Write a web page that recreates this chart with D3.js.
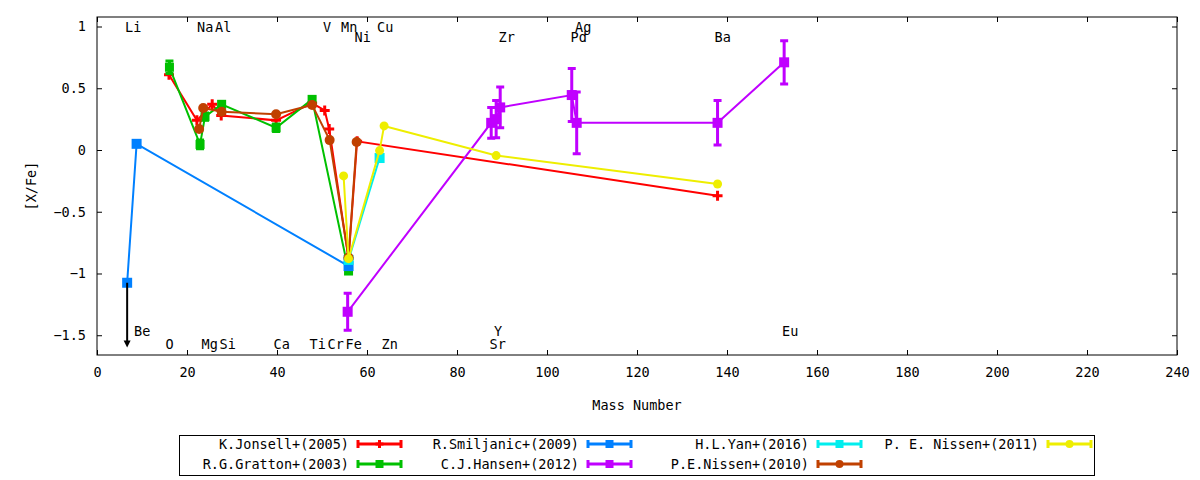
<!DOCTYPE html>
<html><head><meta charset="utf-8">
<script src="https://cdn.jsdelivr.net/npm/d3@7/dist/d3.min.js"></script>
<style>
body{margin:0;background:#fff}
text{font-family:"DejaVu Sans Mono",monospace;font-size:13.5px;fill:#000}
</style>
</head><body>
<svg id="chart" width="1200" height="480"></svg>
<script>
// ---- axis ticks ----
const xTicks = [0,20,40,60,80,100,120,140,160,180,200,220,240];
const yTicks = [1,0.5,0,-0.5,-1,-1.5];
const xTitle = "Mass Number";
const yTitle = "[X/Fe]";

// ---- element labels (name, mass) by row ----
const elemTopRow1 = [["Li",7],["Na",23],["Al",27],["V",51],["Mn",55],["Cu",63],["Ag",107]];
const elemTopRow2 = [["Ni",58],["Zr",90],["Pd",106],["Ba",138]];
const elemBotRow1 = [["O",16],["Mg",24],["Si",28],["Ca",40],["Ti",48],["Cr",52],["Fe",56],["Zn",64],["Sr",88]];
const elemBotRow2 = [["Be",9],["Y",89],["Eu",153]];

// ---- series data ----
const jonsellMass = [16.0, 22.2, 25.6, 27.6, 39.8, 47.8, 50.6, 51.6, 55.9, 57.8, 137.9];
const jonsellVal  = [0.61, 0.24, 0.37, 0.28, 0.24, 0.38, 0.32, 0.17, -0.88, 0.07, -0.37];
const jonsellErr  = [0, 0, 0, 0, 0, 0, 0, 0, 0, 0, 0];

const grattonMass = [16.1, 22.9, 24.0, 27.7, 39.8, 47.8, 55.9];
const grattonVal  = [0.67, 0.045, 0.27, 0.37, 0.18, 0.41, -0.98];
const grattonErr  = [0.05, 0.035, 0.03, 0.02, 0.03, 0.02, 0];

const smiljanicMass = [6.7, 8.8, 55.9];
const smiljanicVal  = [-1.075, 0.05, -0.94];
const smiljanicErr  = [0, 0, 0];

const hansenMass = [55.7, 87.6, 88.7, 89.6, 105.5, 106.6, 137.9, 152.7];
const hansenVal  = [-1.31, 0.22, 0.25, 0.345, 0.445, 0.22, 0.22, 0.71];
const hansenErr  = [0.15, 0.125, 0.15, 0.165, 0.215, 0.25, 0.18, 0.175];

const yanMass = [55.9, 62.8];
const yanVal  = [-0.89, -0.065];
const yanErr  = [0, 0];

const nissen10Mass = [22.7, 23.6, 27.7, 39.8, 47.8, 51.7, 55.9, 57.7];
const nissen10Val  = [0.17, 0.34, 0.31, 0.29, 0.365, 0.08, -0.87, 0.065];
const nissen10Err  = [0, 0, 0, 0, 0, 0, 0, 0];

const nissen11Mass = [54.8, 55.9, 62.8, 63.8, 88.7, 137.9];
const nissen11Val  = [-0.21, -0.88, -0.005, 0.195, -0.045, -0.275];
const nissen11Err  = [0, 0, 0, 0, 0, 0];

// upper limit arrow (Be)
const limitMass = [6.7];
const limitFrom = [-1.075];
const limitTo   = [-1.6];

const seriesNames = ["K.Jonsell+(2005)","R.G.Gratton+(2003)","R.Smiljanic+(2009)","C.J.Hansen+(2012)",
                     "H.L.Yan+(2016)","P.E.Nissen+(2010)","P. E. Nissen+(2011)"];
const seriesColors = ["#ff0000","#00c000","#0080ff","#c000ff","#00eeee","#c04000","#eeee00"];
const seriesMarkers = ["plus","square","square","square","square","circle","circle"];

const series = [
  [jonsellMass, jonsellVal, jonsellErr],
  [grattonMass, grattonVal, grattonErr],
  [smiljanicMass, smiljanicVal, smiljanicErr],
  [hansenMass, hansenVal, hansenErr],
  [yanMass, yanVal, yanErr],
  [nissen10Mass, nissen10Val, nissen10Err],
  [nissen11Mass, nissen11Val, nissen11Err]
].map((s,i)=>({name:seriesNames[i], color:seriesColors[i], marker:seriesMarkers[i],
   pts:s[0].map((m,j)=>({m, v:s[1][j], e:s[2][j]}))}));

// ---- layout ----
const L=97, R=1177, T=17, B=355;
const svg = d3.select("#chart");
const x = d3.scaleLinear().domain([0,240]).range([L,R]);
const y = d3.scaleLinear().domain([-1.66,1.077]).range([B,T]);

// axes (gnuplot-like inward ticks, mirrored)
const tickLen = 5;
const fmtY = d => d3.format("")(d);
svg.append("g").attr("transform",`translate(0,${B})`)
  .call(d3.axisBottom(x).tickValues(xTicks).tickSize(-tickLen).tickPadding(12).tickFormat(d3.format("d")))
  .call(g=>{g.select(".domain").remove(); g.selectAll("text").attr("font-size",null).attr("font-family",null);});
svg.append("g").attr("transform",`translate(0,${T})`)
  .call(d3.axisTop(x).tickValues(xTicks).tickSize(-tickLen).tickFormat(""))
  .call(g=>g.select(".domain").remove());
svg.append("g").attr("transform",`translate(${L},0)`)
  .call(d3.axisLeft(y).tickValues(yTicks).tickSize(-tickLen).tickPadding(11).tickFormat(fmtY))
  .call(g=>{g.select(".domain").remove(); g.selectAll("text").attr("font-size",null).attr("font-family",null);});
svg.append("g").attr("transform",`translate(${R},0)`)
  .call(d3.axisRight(y).tickValues(yTicks).tickSize(-tickLen).tickFormat(""))
  .call(g=>g.select(".domain").remove());
svg.selectAll(".tick line").attr("stroke","#000");

// axis titles
svg.append("text").attr("x",(L+R)/2).attr("y",410).attr("text-anchor","middle").text(xTitle);
svg.append("text").attr("transform",`translate(36,${(T+B)/2}) rotate(-90)`).attr("text-anchor","middle").text(yTitle);

// element labels
const labelRows = [[elemTopRow1,32],[elemTopRow2,42],[elemBotRow1,349],[elemBotRow2,336]];
labelRows.forEach(([row,by])=>{
  svg.append("g").selectAll("text").data(row).join("text")
    .attr("x",d=>x(d[1])-3.5).attr("y",by).text(d=>d[0]);
});

// marker drawing
function drawMarker(g, type, color, cx, cy, scale=1){
  if(type==="plus"){
    const s=5*scale;
    g.append("path").attr("d",`M${cx-s},${cy}H${cx+s}M${cx},${cy-s}V${cy+s}`)
      .attr("stroke",color).attr("stroke-width",3).attr("fill","none");
  } else if(type==="square"){
    const s=5*scale;
    g.append("rect").attr("x",cx-s).attr("y",cy-s).attr("width",2*s).attr("height",2*s).attr("fill",color);
  } else {
    g.append("circle").attr("cx",cx).attr("cy",cy).attr("r",5*scale).attr("fill",color);
  }
}

const plot = svg.append("g");
const line = d3.line().x(d=>x(d.m)).y(d=>y(d.v));
series.forEach(s=>{
  const g = plot.append("g");
  g.append("path").datum(s.pts).attr("d",line).attr("fill","none")
    .attr("stroke",s.color).attr("stroke-width",2);
  s.pts.filter(p=>p.e>0).forEach(p=>{
    const cx=x(p.m), y1=y(p.v+p.e), y2=y(p.v-p.e);
    g.append("path").attr("d",`M${cx},${y1}V${y2}M${cx-4},${y1}H${cx+4}M${cx-4},${y2}H${cx+4}`)
      .attr("stroke",s.color).attr("stroke-width",3).attr("fill","none");
  });
  const sc = s.marker==="circle" && s.color==="#eeee00" ? 0.9 : (s.color==="#00c000"?0.9:1);
  s.pts.forEach(p=>drawMarker(g, s.marker, s.color, x(p.m), y(p.v), sc));
});

// upper-limit arrow
limitMass.forEach((m,i)=>{
  const cx=x(m), y1=y(limitFrom[i]), y2=y(limitTo[i]);
  svg.append("line").attr("x1",cx).attr("x2",cx).attr("y1",y1).attr("y2",y2-6)
    .attr("stroke","#000").attr("stroke-width",2);
  svg.append("path").attr("d",`M${cx-3.5},${y2-7}L${cx+3.5},${y2-7}L${cx},${y2}Z`).attr("fill","#000");
});

// frame
svg.append("rect").attr("x",L).attr("y",T).attr("width",R-L).attr("height",B-T)
  .attr("fill","none").attr("stroke","#000").attr("stroke-width",1);

// legend
const lg = svg.append("g");
lg.append("rect").attr("x",179.5).attr("y",435.5).attr("width",915).attr("height",40)
  .attr("fill","none").attr("stroke","#000").attr("stroke-width",1);
series.forEach((s,i)=>{
  const col=Math.floor(i/2), row=i%2;
  const tx = 349 + col*230, ty = 444 + row*20;
  lg.append("text").attr("x",tx).attr("y",ty+4.5).attr("text-anchor","end").text(s.name);
  const x1=tx+9, x2=tx+52, mx=(x1+x2)/2;
  lg.append("path").attr("d",`M${x1},${ty}H${x2}M${x1},${ty-4}V${ty+4}M${x2},${ty-4}V${ty+4}`)
    .attr("stroke",s.color).attr("stroke-width",3).attr("fill","none");
  drawMarker(lg, s.marker, s.color, mx, ty, 0.8);
});
</script>
</body></html>
